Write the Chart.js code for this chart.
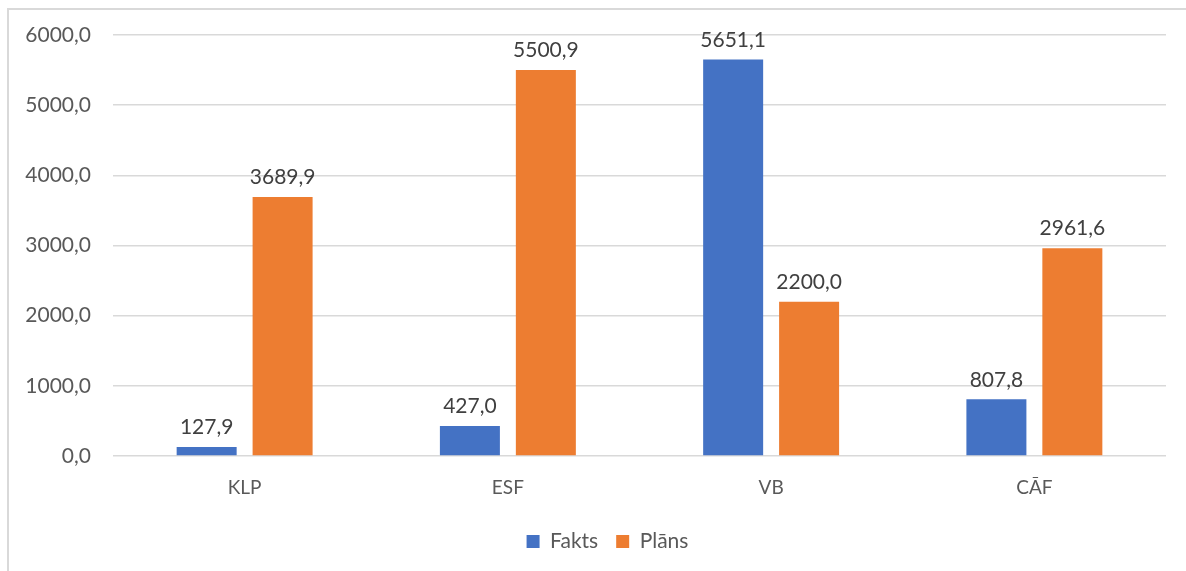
<!DOCTYPE html>
<html>
<head>
<meta charset="utf-8">
<script src="https://cdn.jsdelivr.net/npm/chart.js@4.4.0/dist/chart.umd.min.js"></script>
<style>
    html, body { margin: 0; padding: 0; background: #fff; }
    #wrap { position: relative; width: 1186px; height: 571px; overflow: hidden; }
    #frame { position: absolute; left: 7px; top: 8px; width: 1200px; height: 600px;
             border-left: 2px solid #d9d9d9; border-top: 2px solid #d9d9d9; }
    #chart { position: absolute; left: 0; top: 0; }
</style>
</head>
<body>
<div id="wrap">
    <div id="frame"></div>
    <canvas id="chart" width="1186" height="571"></canvas>
</div>
<script>
var categories = ['KLP', 'ESF', 'VB', 'CĀF'];
var fakts = [127.9, 427.0, 5651.1, 807.8];
var plans = [3689.9, 5500.9, 2200.0, 2961.6];
var yTicks = [0, 1000, 2000, 3000, 4000, 5000, 6000];

var fontName = 'Lato, "Open Sans", sans-serif';

function fmt(v) {
    return v.toFixed(1).replace('.', ',');
}

// labels above each bar, Excel style
var valueLabels = {
    id: 'valueLabels',
    afterDatasetsDraw: function (chart) {
        var ctx = chart.ctx;
        ctx.save();
        ctx.font = '21px ' + fontName;
        ctx.fillStyle = '#404040';
        ctx.textAlign = 'center';
        ctx.textBaseline = 'bottom';
        chart.data.datasets.forEach(function (ds, i) {
            chart.getDatasetMeta(i).data.forEach(function (bar, j) {
                ctx.fillText(fmt(ds.data[j]), bar.x, bar.y - 9);
            });
        });
        ctx.restore();
    }
};

// excel puts the legend a bit right of the middle
var shiftLegend = {
    id: 'shiftLegend',
    afterLayout: function (chart) {
        if (chart.legend) {
            chart.legend.left += 34;
        }
    }
};

new Chart(document.getElementById('chart'), {
    type: 'bar',
    data: {
        labels: categories,
        datasets: [
            {label: 'Fakts', data: fakts, backgroundColor: '#4472c4', categoryPercentage: 0.577, barPercentage: 0.79},
            {label: 'Plāns', data: plans, backgroundColor: '#ed7d31', categoryPercentage: 0.577, barPercentage: 0.79}
        ]
    },
    options: {
        responsive: false,
        animation: false,
        layout: {padding: {left: 15, right: 20, top: 35, bottom: 9}},
        plugins: {
            legend: {
                position: 'bottom',
                labels: {
                    boxWidth: 13, boxHeight: 13, padding: 18,
                    color: '#595959', font: {family: fontName, size: 21}
                }
            },
            tooltip: {enabled: false}
        },
        scales: {
            x: {
                grid: {display: false},
                border: {display: false},
                ticks: {color: '#595959', font: {family: fontName, size: 19}, padding: 12},
                afterFit: function (scale) { scale.height = 57; }
            },
            y: {
                min: 0, max: 6000,
                afterBuildTicks: function (scale) {
                    scale.ticks = yTicks.map(function (v) { return {value: v}; });
                },
                grid: {color: '#d9d9d9', lineWidth: 1.5, drawTicks: false},
                border: {display: false},
                ticks: {
                    color: '#595959', font: {family: fontName, size: 21}, padding: 22,
                    callback: function (v) { return fmt(v); }
                },
                afterFit: function (scale) { scale.width = 98; }
            }
        }
    },
    plugins: [valueLabels, shiftLegend]
});
</script>
</body>
</html>
